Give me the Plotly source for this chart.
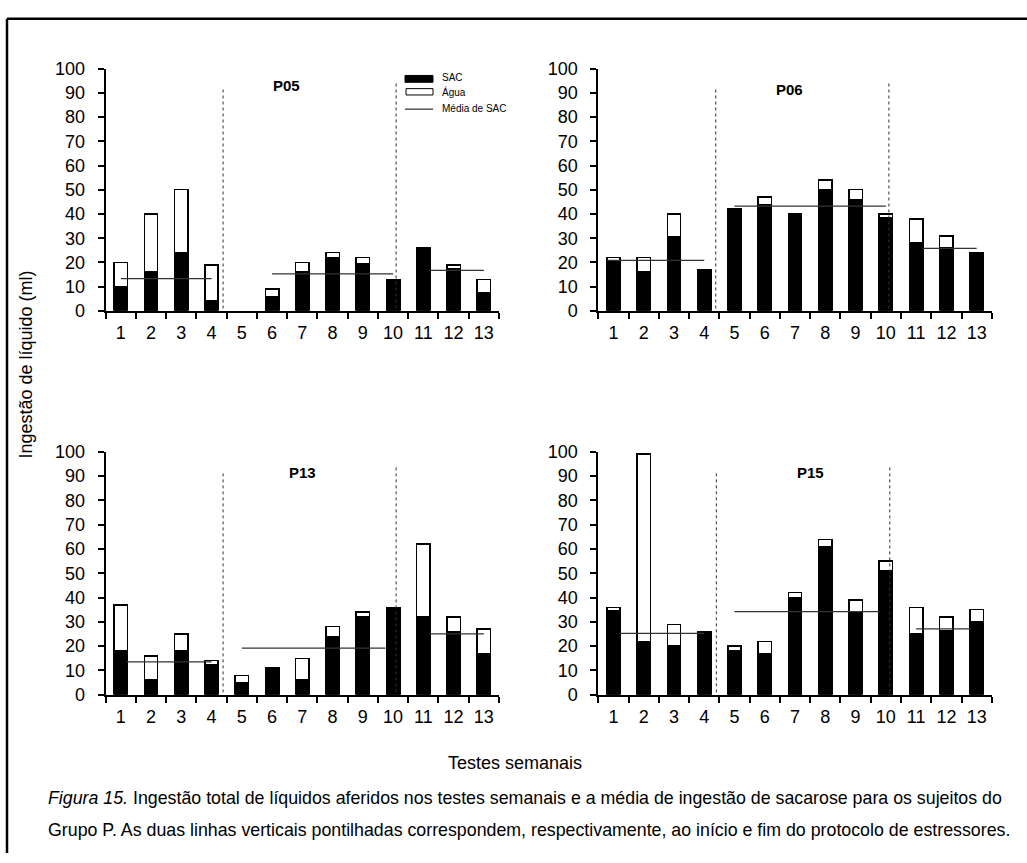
import plotly.graph_objects as go

W, H = 1027, 863
FONT = "Liberation Sans, Arial, sans-serif"

weeks = list(range(1, 14))
week_labels = [str(w) for w in weeks]

subjects = ["P05", "P06", "P13", "P15"]

sac_p05 = [10, 16, 24, 4, 0, 6, 16, 22, 19.5, 13, 26, 17.5, 7.5]
tot_p05 = [20, 40, 50, 19, 0, 9, 20, 24, 22, 13, 26, 19, 13]
sac_p06 = [20.5, 16, 30.5, 17, 42, 44, 39.5, 50, 46, 38.5, 28, 26, 23.5]
tot_p06 = [22, 22, 40, 17, 42, 47, 40, 54, 50, 40, 38, 31, 24]
sac_p13 = [18, 6, 18, 12.5, 5, 11, 6, 24, 32, 36, 32, 26, 17]
tot_p13 = [37, 16, 25, 14, 8, 11, 15, 28, 34, 36, 62, 32, 27]
sac_p15 = [34.5, 22, 20, 25.5, 18, 17, 40, 61, 34, 51, 25, 26.5, 30]
tot_p15 = [36, 99, 29, 26, 20, 22, 42, 64, 39, 55, 36, 32, 35]

# Mean of SAC per phase: (start week, end week, mean)
mean_p05 = [(1.0, 4.0, 13.3), (6.0, 10.0, 15.3), (11.2, 13.0, 16.7)]
mean_p06 = [(0.8, 4.0, 20.8), (5.0, 10.0, 43.2), (11.2, 13.0, 25.8)]
mean_p13 = [(1.2, 4.0, 13.5), (5.0, 9.75, 19.2), (11.2, 13.0, 25.1)]
mean_p15 = [(1.2, 4.0, 25.3), (5.0, 9.8, 34.2), (11.0, 12.8, 27.1)]

# protocol start/end markers (week position, top value)
marks_p05 = [(4.38, 92), (10.1, 95)]
marks_p06 = [(4.38, 92), (10.1, 94.6)]
marks_p13 = [(4.38, 92), (10.1, 94.2)]
marks_p15 = [(4.4, 92), (10.13, 94.2)]

sac_all = [sac_p05, sac_p06, sac_p13, sac_p15]
tot_all = [tot_p05, tot_p06, tot_p13, tot_p15]
mean_all = [mean_p05, mean_p06, mean_p13, mean_p15]
marks_all = [marks_p05, marks_p06, marks_p13, marks_p15]
label_pos = [(6.47, 93), (6.8, 91.3), (7.0, 91.5), (7.5, 91.3)]


def px(x):
    return x / W


def py(y):
    return 1 - y / H


# panel pixel boxes (left, right, top(100), bottom(0))
boxes = [
    (105.7, 499.0, 60.0, 308.0),
    (598.3, 991.8, 60.0, 308.0),
    (105.7, 499.0, 452.3, 701.0),
    (598.3, 991.8, 452.3, 701.0),
]

fig = go.Figure()
axnames = ["", "2", "3", "4"]

for i in range(4):
    xa = "x" + axnames[i]
    ya = "y" + axnames[i]
    sac = sac_all[i]
    tot = tot_all[i]
    agua = [t - s for t, s in zip(tot, sac)]
    fig.add_trace(go.Bar(
        x=weeks, y=sac, xaxis=xa, yaxis=ya, name="SAC",
        marker=dict(color="black",
                    line=dict(color="black", width=[1.5 if v > 0 else 0 for v in sac])),
        showlegend=False,
    ))
    fig.add_trace(go.Bar(
        x=weeks, y=agua, xaxis=xa, yaxis=ya, name="Água",
        marker=dict(color="white",
                    line=dict(color="black", width=[1.5 if v > 0 else 0 for v in agua])),
        showlegend=False,
    ))
    for (x0, x1, m) in mean_all[i]:
        fig.add_trace(go.Scatter(
            x=[x0, x1], y=[m, m], xaxis=xa, yaxis=ya, mode="lines",
            line=dict(color="#333333", width=1.2), showlegend=False,
            hoverinfo="skip",
        ))
    for (xm, top) in marks_all[i]:
        fig.add_shape(type="line", xref=xa, yref=ya, x0=xm, x1=xm, y0=-1.5, y1=top,
                      line=dict(color="#333333", width=1, dash="dot"))
    lx, ly = label_pos[i]
    fig.add_annotation(xref=xa, yref=ya, x=lx, y=ly, text="<b>%s</b>" % subjects[i],
                       showarrow=False, font=dict(family=FONT, size=15, color="black"))

    l, r, t, b = boxes[i]
    xkey = "xaxis" + axnames[i]
    ykey = "yaxis" + axnames[i]
    fig.layout[xkey] = dict(
        domain=[px(l), px(r)], anchor=ya, range=[0.5, 13.5],
        tickvals=weeks, ticktext=week_labels, ticks="",
        minor=dict(tick0=0.5, dtick=1, ticks="outside", ticklen=6, tickwidth=2, tickcolor="black"),
        showline=True, linecolor="black", linewidth=2, showgrid=False, zeroline=False,
        tickfont=dict(family=FONT, size=18, color="black"), ticklabelstandoff=5,
        fixedrange=True,
    )
    fig.layout[ykey] = dict(
        domain=[py(b), py(t)], anchor=xa, range=[0, 100],
        tickvals=list(range(0, 101, 10)), ticks="outside", ticklen=6, tickwidth=2, tickcolor="black",
        showline=True, linecolor="black", linewidth=2, showgrid=False, zeroline=False,
        tickfont=dict(family=FONT, size=18, color="black"), ticklabelstandoff=9,
        fixedrange=True,
    )

# legend (drawn manually in P05 panel)
fig.add_shape(type="rect", xref="paper", yref="paper", x0=px(405), x1=px(433), y0=py(74), y1=py(67),
              fillcolor="black", line=dict(color="black", width=1))
fig.add_shape(type="rect", xref="paper", yref="paper", x0=px(406), x1=px(433), y0=py(87), y1=py(80.5),
              fillcolor="white", line=dict(color="black", width=1))
fig.add_shape(type="line", xref="paper", yref="paper", x0=px(405), x1=px(433), y0=py(101.5), y1=py(101.5),
              line=dict(color="black", width=1))
for txt, yy in [("SAC", 69), ("Água", 84), ("Média de SAC", 101)]:
    fig.add_annotation(xref="paper", yref="paper", x=px(440), y=py(yy), text=txt, showarrow=False,
                       xanchor="left", yanchor="middle", font=dict(family=FONT, size=10, color="black"))

# frame lines
fig.add_shape(type="line", xref="paper", yref="paper", x0=px(7), x1=1, y0=py(9), y1=py(9),
              line=dict(color="black", width=2.5))
fig.add_shape(type="line", xref="paper", yref="paper", x0=px(7), x1=px(7), y0=py(9), y1=0,
              line=dict(color="black", width=2.5))

# axis titles
fig.add_annotation(xref="paper", yref="paper", x=px(26), y=py(363), text="Ingestão de líquido (ml)",
                   textangle=-90, showarrow=False, xanchor="center", yanchor="middle",
                   font=dict(family=FONT, size=18, color="black"))
fig.add_annotation(xref="paper", yref="paper", x=px(515), y=py(771), text="Testes semanais",
                   showarrow=False, xanchor="center", yanchor="middle",
                   font=dict(family=FONT, size=18, color="black"))

# caption
cap1 = ("<i>Figura 15.</i> Ingestão total de líquidos aferidos nos testes semanais e a média de "
        "ingestão de sacarose para os sujeitos do")
cap2 = ("Grupo P. As duas linhas verticais pontilhadas correspondem, respectivamente, ao início e "
        "fim do protocolo de estressores.")
fig.add_annotation(xref="paper", yref="paper", x=px(46), y=py(807), text=cap1, showarrow=False,
                   xanchor="left", yanchor="middle", font=dict(family=FONT, size=17.8, color="black"))
fig.add_annotation(xref="paper", yref="paper", x=px(46), y=py(839), text=cap2, showarrow=False,
                   xanchor="left", yanchor="middle", font=dict(family=FONT, size=17.8, color="black"))

fig.update_layout(
    width=W, height=H, margin=dict(l=0, r=0, t=0, b=0),
    barmode="stack", bargap=0.56,
    plot_bgcolor="white", paper_bgcolor="white",
    showlegend=False,
)

fig.write_html("out.html", config={"displayModeBar": False})
